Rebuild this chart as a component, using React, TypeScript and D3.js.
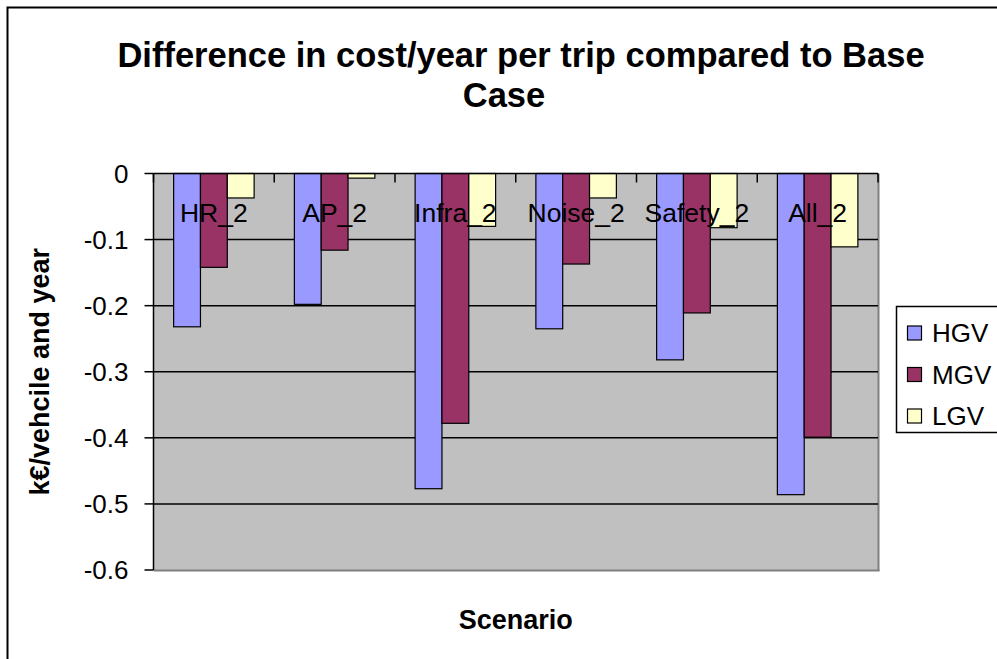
import React from 'react';
import * as d3 from 'd3';

const scenarios = ['HR_2', 'AP_2', 'Infra_2', 'Noise_2', 'Safety_2', 'All_2'];
const seriesNames = ['HGV', 'MGV', 'LGV'];
const hgv = [-0.232, -0.198, -0.477, -0.235, -0.282, -0.486];
const mgv = [-0.142, -0.116, -0.378, -0.137, -0.211, -0.399];
const lgv = [-0.037, -0.007, -0.080, -0.037, -0.082, -0.111];
const yTicks = [0, -0.1, -0.2, -0.3, -0.4, -0.5, -0.6];
const colors = ['#9999FF', '#993366', '#FFFFCC'];

const W = 997;
const H = 659;
const plot = { left: 153.5, top: 173.5, right: 878, bottom: 570 };
const font = '"Liberation Sans", Arial, sans-serif';

// excel style: plain hyphen for negatives
const fmt = (t: number) => d3.format('.1~f')(t).replace('\u2212', '-');

export default function App() {
  const values = [hgv, mgv, lgv];

  const x0 = d3.scaleBand<string>().domain(scenarios).range([plot.left, plot.right]).padding(0);
  const cw = x0.bandwidth();
  const barW = cw / 4.5; // excel gap width 150%
  const x1 = d3.scaleBand<string>().domain(seriesNames).range([barW * 0.75, cw - barW * 0.75]).padding(0);
  const y = d3.scaleLinear().domain([0, -0.6]).range([plot.top, plot.bottom]);

  return (
    <svg width={W} height={H} style={{ position: 'absolute', left: 0, top: 0, background: '#fff' }} fontFamily={font}>
      {/* chart border, runs off the right and bottom */}
      <rect x={7.5} y={7.5} width={1100} height={800} fill="#fff" stroke="#000" strokeWidth={2} />

      <text x={521} y={67} textAnchor="middle" fontSize={34.5} fontWeight="bold">
        Difference in cost/year per trip compared to Base
      </text>
      <text x={504} y={107} textAnchor="middle" fontSize={34.5} fontWeight="bold">Case</text>

      {/* plot area */}
      <rect x={plot.left} y={plot.top} width={plot.right - plot.left} height={plot.bottom - plot.top} fill="#C0C0C0" />
      <line x1={plot.right + 0.5} x2={plot.right + 0.5} y1={plot.top} y2={plot.bottom + 1} stroke="#808080" strokeWidth={2} />
      <line x1={plot.left} x2={plot.right + 1.5} y1={plot.bottom + 0.5} y2={plot.bottom + 0.5} stroke="#808080" strokeWidth={2} />

      {yTicks.filter(t => t !== 0 && t !== -0.6).map(t => (
        <line key={t} x1={plot.left} x2={plot.right} y1={y(t)} y2={y(t)} stroke="#000" strokeWidth={1.5} />
      ))}

      {/* bars */}
      {values.map((vals, si) => (
        <g key={seriesNames[si]}>
          {vals.map((v, ci) => (
            <rect
              key={scenarios[ci]}
              x={(x0(scenarios[ci]) || 0) + (x1(seriesNames[si]) || 0)}
              y={y(0)}
              width={x1.bandwidth()}
              height={y(v) - y(0)}
              fill={colors[si]}
              stroke="#000"
              strokeWidth={1.2}
            />
          ))}
        </g>
      ))}

      {/* y axis */}
      <line x1={plot.left} x2={plot.left} y1={plot.top} y2={plot.bottom} stroke="#000" strokeWidth={1.5} />
      {yTicks.map(t => (
        <g key={t}>
          <line x1={plot.left - 9} x2={plot.left} y1={y(t)} y2={y(t)} stroke="#000" strokeWidth={1.5} />
          <text x={plot.left - 25} y={y(t)} dy="0.35em" textAnchor="end" fontSize={26}>{fmt(t)}</text>
        </g>
      ))}

      {/* x axis at zero */}
      <line x1={plot.left} x2={plot.right} y1={plot.top} y2={plot.top} stroke="#000" strokeWidth={1.5} />
      {scenarios.map(s => (
        <line key={'t' + s} x1={x0(s) || 0} x2={x0(s) || 0} y1={plot.top} y2={plot.top + 9} stroke="#000" strokeWidth={1.5} />
      ))}
      <line x1={plot.right} x2={plot.right} y1={plot.top} y2={plot.top + 9} stroke="#000" strokeWidth={1.5} />
      {scenarios.map(s => (
        <text key={'l' + s} x={(x0(s) || 0) + cw / 2} y={222} textAnchor="middle" fontSize={26.5}>{s}</text>
      ))}

      <text x={(plot.left + plot.right) / 2} y={629} textAnchor="middle" fontSize={27} fontWeight="bold">Scenario</text>
      <text transform={`translate(49, ${(plot.top + plot.bottom) / 2}) rotate(-90)`} textAnchor="middle" fontSize={27} fontWeight="bold">
        k€/vehcile and year
      </text>

      {/* legend */}
      <rect x={896.5} y={306.5} width={200} height={126} fill="#fff" stroke="#000" strokeWidth={1.5} />
      {seriesNames.map((s, i) => (
        <g key={'lg' + s}>
          <rect x={907.5} y={326 + i * 41.5} width={14} height={14} fill={colors[i]} stroke="#000" strokeWidth={1.2} />
          <text x={932} y={333 + i * 41.5} dy="0.35em" fontSize={26}>{s}</text>
        </g>
      ))}
    </svg>
  );
}
